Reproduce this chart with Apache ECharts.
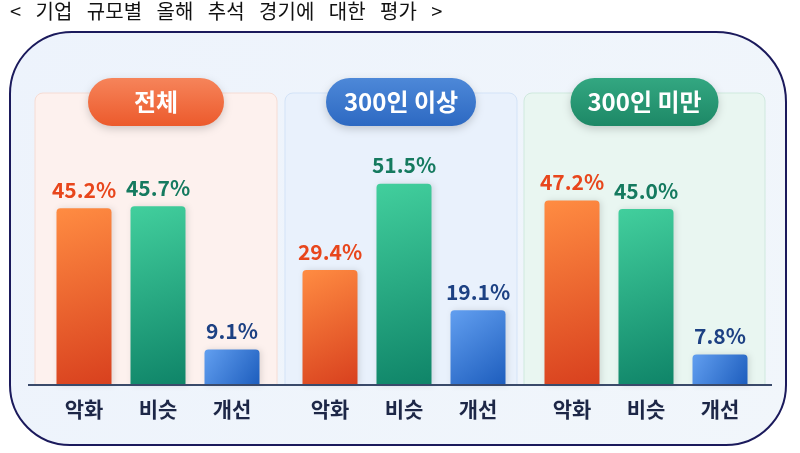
<!DOCTYPE html>
<html>
<head>
<meta charset="utf-8">
<script src="https://cdn.jsdelivr.net/npm/echarts@6/dist/echarts.min.js"></script>
<style>
  html, body { margin: 0; padding: 0; background: #ffffff; }
  #chart { width: 800px; height: 453px; }
</style>
</head>
<body>
<div id="chart"></div>
<script>
// 데이터
let categories = ['악화', '비슷', '개선'];
let groups = ['전체', '300인 이상', '300인 미만'];
let values_all = [45.2, 45.7, 9.1];
let values_big = [29.4, 51.5, 19.1];
let values_small = [47.2, 45.0, 7.8];
let groupValues = [values_all, values_big, values_small];
let titleText = '< 기업 규모별 올해 추석 경기에 대한 평가 >';

let FONT = '"Noto Sans CJK KR", "Noto Sans", sans-serif';

function grad(c1, c2) {
    return new echarts.graphic.LinearGradient(0, 0, 1, 1, [
        { offset: 0, color: c1 },
        { offset: 1, color: c2 }
    ]);
}
let barColors = [
    ['#ff8c42', '#d8401e'],
    ['#42cf9d', '#0f8468'],
    ['#629ff0', '#1d5dbd']
];
let labelColors = ['#e8461c', '#157a5f', '#1d4183'];

// 패널 위치 (px)
let panels = [
    { x: 35, w: 242, bg: '#fdf1ee', border: '#f6dcd4', pill: ['#f6845a', '#ec5a2c'], pillW: 136 },
    { x: 285, w: 232, bg: '#e9f1fc', border: '#d3e3f7', pill: ['#4d88d8', '#2d69c2'], pillW: 150 },
    { x: 524, w: 241, bg: '#e9f6f1', border: '#cfe9de', pill: ['#33a781', '#1d8866'], pillW: 148 }
];
let gridLeft = [47, 293, 535];
let gridWidth = 222;

let grids = [], xAxes = [], yAxes = [], series = [];
for (let g = 0; g < 3; g++) {
    grids.push({ left: gridLeft[g], width: gridWidth, top: 127, bottom: 68 });
    xAxes.push({
        type: 'category',
        gridIndex: g,
        data: categories,
        axisLine: { show: false },
        axisTick: { show: false },
        axisLabel: { color: '#1d2747', fontSize: 21, fontWeight: 'bold', fontFamily: FONT, margin: 14 }
    });
    yAxes.push({
        type: 'value',
        gridIndex: g,
        min: 0,
        max: 66,
        show: false,
        splitLine: { show: false }
    });
    series.push({
        type: 'bar',
        xAxisIndex: g,
        yAxisIndex: g,
        barWidth: 55,
        data: groupValues[g].map(function (v, i) {
            return {
                value: v,
                itemStyle: {
                    color: grad(barColors[i][0], barColors[i][1]),
                    borderRadius: [4, 4, 0, 0],
                    shadowColor: 'rgba(0,0,0,0.12)',
                    shadowBlur: 6,
                    shadowOffsetX: 2
                },
                label: { color: labelColors[i] }
            };
        }),
        label: {
            show: true,
            position: 'top',
            distance: 8,
            fontSize: 21,
            fontWeight: 'bold',
            fontFamily: FONT,
            formatter: function (p) { return p.value.toFixed(1) + '%'; }
        }
    });
}

// 배경, 패널, 타이틀 pill
let graphics = [
    {
        type: 'rect', z: -10,
        shape: { x: 10, y: 32, width: 776, height: 413, r: [62, 70, 60, 60] },
        style: {
            fill: new echarts.graphic.LinearGradient(0, 0, 1, 1, [
                { offset: 0, color: '#edf3fc' },
                { offset: 1, color: '#f1f6fb' }
            ]),
            stroke: '#1b1a5c', lineWidth: 2
        }
    },
    {
        type: 'text', left: 10, top: 1,
        style: {
            text: titleText.split(' ').join('\u2002 '),
            fontSize: 20, fill: '#111111', fontFamily: FONT
        }
    },
    {
        type: 'line', z: 5,
        shape: { x1: 28, y1: 385, x2: 772, y2: 385 },
        style: { stroke: '#3a4a6a', lineWidth: 2 }
    }
];
panels.forEach(function (p, g) {
    graphics.push({
        type: 'rect', z: -5,
        shape: { x: p.x, y: 93, width: p.w, height: 292, r: [8, 8, 0, 0] },
        style: { fill: p.bg, stroke: p.border, lineWidth: 1 }
    });
    let cx = p.x + p.w / 2;
    graphics.push({
        type: 'rect', z: 10,
        shape: { x: cx - p.pillW / 2, y: 78, width: p.pillW, height: 48, r: 24 },
        style: {
            fill: new echarts.graphic.LinearGradient(0, 0, 0, 1, [
                { offset: 0, color: p.pill[0] },
                { offset: 1, color: p.pill[1] }
            ]),
            shadowColor: 'rgba(0,0,0,0.18)', shadowBlur: 8, shadowOffsetY: 3
        }
    });
    graphics.push({
        type: 'text', z: 11,
        x: cx, y: 102,
        style: {
            text: groups[g], fill: '#ffffff', fontSize: 24, fontWeight: 'bold',
            fontFamily: FONT, align: 'center', verticalAlign: 'middle'
        }
    });
});

let myChart = echarts.init(document.getElementById('chart'));
myChart.setOption({
    animation: false,
    grid: grids,
    xAxis: xAxes,
    yAxis: yAxes,
    series: series,
    graphic: graphics
});
</script>
</body>
</html>
